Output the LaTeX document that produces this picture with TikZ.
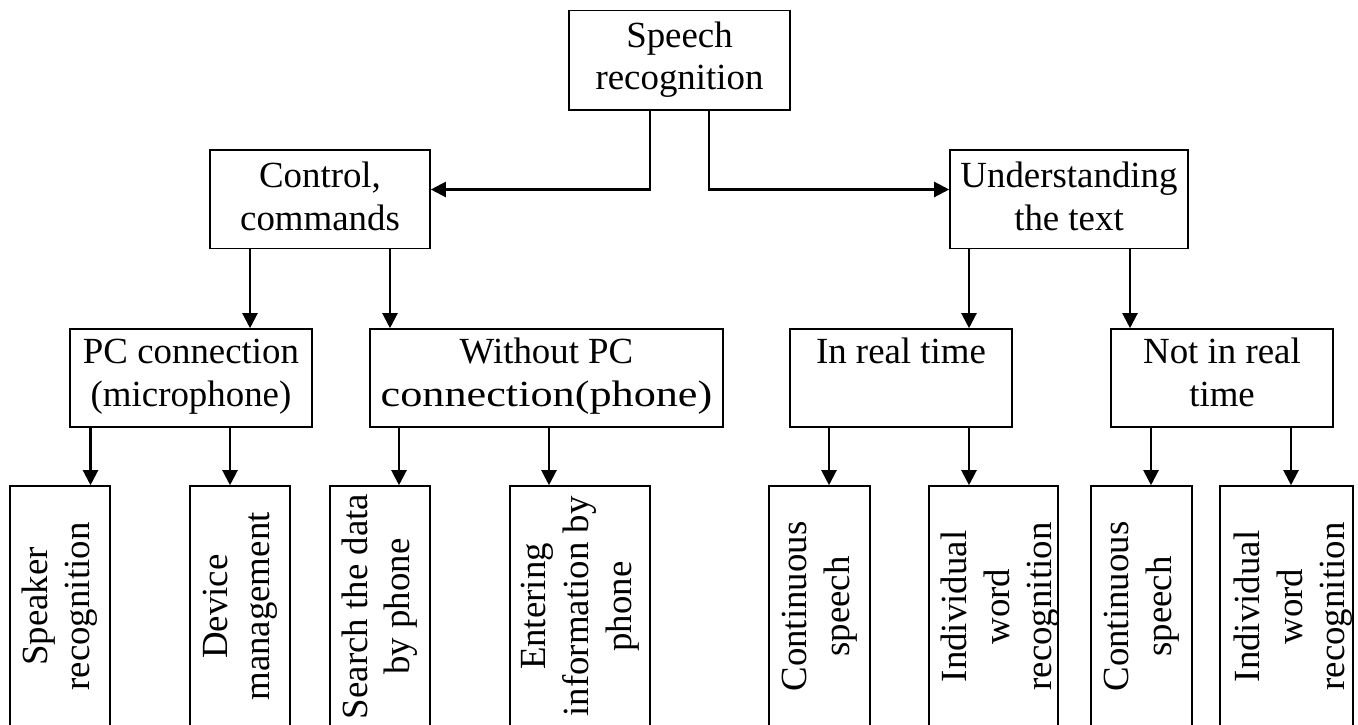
\documentclass[tikz,border=0pt]{standalone}
\usepackage{fontspec}
\setmainfont{Liberation Serif}
\usetikzlibrary{arrows.meta}
\newcommand{\vtext}[1]{\rotatebox{90}{\begin{tabular}{@{}c@{}}#1\end{tabular}}}
\newcommand{\vtextr}[1]{\hspace*{7bp}\vtext{#1}\hspace*{-7bp}}
\begin{document}
\begin{tikzpicture}[x=1bp,y=-1bp,
  box/.style={draw, line width=1.6bp, rectangle, inner sep=0pt, align=center,
    font=\fontsize{37}{43}\selectfont, text depth=10bp},
  root/.style={box, text height=69.2bp},
  upper/.style={box, text height=72.2bp},
  lower/.style={box, text height=66.9bp, minimum height=97.7bp},
  vbox/.style={draw, line width=1.6bp, rectangle, inner sep=0pt,
    minimum height=241bp, font=\fontsize{37}{43}\selectfont},
  arr/.style={line width=2.2bp, -{Triangle[length=15bp,width=15bp]}}]
\useasboundingbox (0,0) rectangle (1358,724);

% root
\node[root, minimum width=221bp, minimum height=99.3bp] (sr) at (679.5,60.35) {Speech\\recognition};

% first level
\node[upper, minimum width=220bp, minimum height=98.3bp] (cc) at (320,199.15) {Control,\\commands};
\node[upper, minimum width=238bp, minimum height=98.3bp] (ut) at (1069,199.15) {Understanding\\the text};

% second level
\node[lower, minimum width=242bp] (pc) at (191,377.85) {PC connection\\(microphone)};
\node[lower, minimum width=353bp] (wpc) at (546.5,377.85) {Without PC\\\scalebox{1.2}[1]{connection(phone)}};
\node[lower, minimum width=222bp] (irt) at (901,377.85) {In real time\\\mbox{}};
\node[lower, minimum width=222bp] (nrt) at (1222,377.85) {Not in real\\time};

% third level, vertical captions
\node[vbox, minimum width=100bp] (spk) at (60,606.5) {\vtext{Speaker\\recognition}};
\node[vbox, minimum width=100bp] (dev) at (240,606.5) {\vtext{Device\\management}};
\node[vbox, minimum width=100bp] (srch) at (380,606.5) {\vtext{Search the data\\by phone}};
\node[vbox, minimum width=140bp] (ent) at (580,606.5) {\vtext{Entering\\information by\\phone}};
\node[vbox, minimum width=101bp] (cs1) at (819.5,606.5) {\vtext{Continuous\\speech}};
\node[vbox, minimum width=128.5bp] (iw1) at (993.5,606.5) {\vtextr{Individual\\word\\recognition}};
\node[vbox, minimum width=101bp] (cs2) at (1141.5,606.5) {\vtext{Continuous\\speech}};
\node[vbox, minimum width=133bp] (iw2) at (1286.5,606.5) {\vtextr{Individual\\word\\recognition}};

% connectors
\draw[arr] (sr.south -| 650,0) |- (cc.east |- 0,189.5);
\draw[arr] (sr.south -| 709,0) |- (ut.west |- 0,189.5);

\draw[arr] (cc.south -| 250,0) -- (pc.north -| 250,0);
\draw[arr] (cc.south -| 390,0) -- (wpc.north -| 390,0);
\draw[arr] (ut.south -| 969,0) -- (irt.north -| 969,0);
\draw[arr] (ut.south -| 1130,0) -- (nrt.north -| 1130,0);

\draw[arr] (pc.south -| 90.5,0) -- (spk.north -| 90.5,0);
\draw[arr] (pc.south -| 230,0) -- (dev.north -| 230,0);
\draw[arr] (wpc.south -| 399,0) -- (srch.north -| 399,0);
\draw[arr] (wpc.south -| 549,0) -- (ent.north -| 549,0);
\draw[arr] (irt.south -| 829,0) -- (cs1.north -| 829,0);
\draw[arr] (irt.south -| 969,0) -- (iw1.north -| 969,0);
\draw[arr] (nrt.south -| 1151,0) -- (cs2.north -| 1151,0);
\draw[arr] (nrt.south -| 1291,0) -- (iw2.north -| 1291,0);
\end{tikzpicture}
\end{document}
